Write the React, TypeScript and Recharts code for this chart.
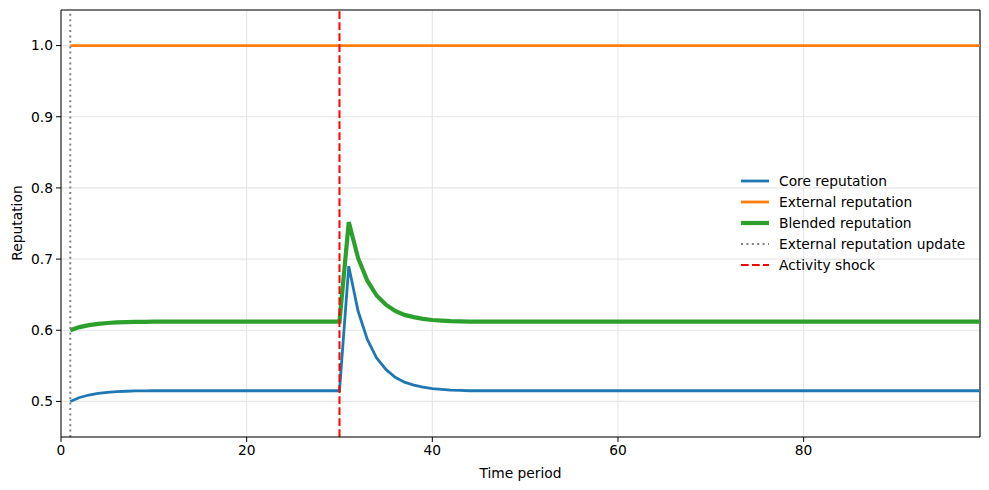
import React from "react";
import { LineChart, Line, XAxis, YAxis, CartesianGrid, ReferenceLine } from "recharts";

// time periods 1..99
const periods: number[] = Array.from({ length: 99 }, (_, i) => i + 1);

const coreReputation: number[] = [
    0.5, 0.5055, 0.509, 0.5113, 0.5128, 0.5137, 0.5143, 0.5147, 0.5149, 0.515,
    0.515, 0.515, 0.515, 0.515, 0.515, 0.515, 0.515, 0.515, 0.515, 0.515,
    0.515, 0.515, 0.515, 0.515, 0.515, 0.515, 0.515, 0.515, 0.515, 0.515,
    0.69, 0.627, 0.587, 0.561, 0.545, 0.534, 0.527, 0.523, 0.52, 0.518,
    0.517, 0.516, 0.5155, 0.515, 0.515, 0.515, 0.515, 0.515, 0.515, 0.515,
    0.515, 0.515, 0.515, 0.515, 0.515, 0.515, 0.515, 0.515, 0.515, 0.515,
    0.515, 0.515, 0.515, 0.515, 0.515, 0.515, 0.515, 0.515, 0.515, 0.515,
    0.515, 0.515, 0.515, 0.515, 0.515, 0.515, 0.515, 0.515, 0.515, 0.515,
    0.515, 0.515, 0.515, 0.515, 0.515, 0.515, 0.515, 0.515, 0.515, 0.515,
    0.515, 0.515, 0.515, 0.515, 0.515, 0.515, 0.515, 0.515, 0.515,
];

const externalReputation: number[] = periods.map(() => 1.0);

const blendedReputation: number[] = [
    0.6, 0.6044, 0.6072, 0.609, 0.6102, 0.611, 0.6114, 0.6118, 0.6119, 0.612,
    0.612, 0.612, 0.612, 0.612, 0.612, 0.612, 0.612, 0.612, 0.612, 0.612,
    0.612, 0.612, 0.612, 0.612, 0.612, 0.612, 0.612, 0.612, 0.612, 0.612,
    0.752, 0.7016, 0.6696, 0.6488, 0.636, 0.6272, 0.6216, 0.6184, 0.616, 0.6144,
    0.6136, 0.6128, 0.6124, 0.612, 0.612, 0.612, 0.612, 0.612, 0.612, 0.612,
    0.612, 0.612, 0.612, 0.612, 0.612, 0.612, 0.612, 0.612, 0.612, 0.612,
    0.612, 0.612, 0.612, 0.612, 0.612, 0.612, 0.612, 0.612, 0.612, 0.612,
    0.612, 0.612, 0.612, 0.612, 0.612, 0.612, 0.612, 0.612, 0.612, 0.612,
    0.612, 0.612, 0.612, 0.612, 0.612, 0.612, 0.612, 0.612, 0.612, 0.612,
    0.612, 0.612, 0.612, 0.612, 0.612, 0.612, 0.612, 0.612, 0.612,
];

const xTicks = [0, 20, 40, 60, 80];
const yTicks = [0.5, 0.6, 0.7, 0.8, 0.9, 1.0];
const externalUpdatePeriod = 1;
const shockPeriod = 30;

const data = periods.map((t, i) => ({
    t,
    core: coreReputation[i],
    external: externalReputation[i],
    blended: blendedReputation[i],
}));

const FONT = "'DejaVu Sans', sans-serif";
const FS = 13.8;

const legendItems = [
    { label: "Core reputation", color: "#1f77b4", width: 2.8, dash: "" },
    { label: "External reputation", color: "#ff7f0e", width: 2.8, dash: "" },
    { label: "Blended reputation", color: "#2ca02c", width: 4.2, dash: "" },
    { label: "External reputation update", color: "#808080", width: 2, dash: "2 3.4" },
    { label: "Activity shock", color: "#ff0000", width: 2, dash: "7.7 3.3" },
];

const LegendBox = () => (
    <div style={{ position: "absolute", left: 741, top: 170, fontFamily: FONT, fontSize: FS, color: "#000" }}>
        {legendItems.map((item) => (
            <div key={item.label} style={{ display: "flex", alignItems: "center", height: 21 }}>
                <svg width={28} height={10} style={{ marginRight: 10 }}>
                    <line x1={0} y1={5} x2={28} y2={5} stroke={item.color} strokeWidth={item.width} strokeDasharray={item.dash} />
                </svg>
                <span>{item.label}</span>
            </div>
        ))}
    </div>
);

const App: React.FC = () => {
    return (
        <div style={{ position: "absolute", left: 0, top: 0, width: 989, height: 490, background: "#fff" }}>
            <LineChart width={989} height={490} data={data} margin={{ top: 10, right: 9, left: 11, bottom: 8 }}>
                <CartesianGrid stroke="#e6e6e6" strokeWidth={1.1} />
                <XAxis
                    dataKey="t"
                    type="number"
                    domain={[0, 99]}
                    ticks={xTicks}
                    allowDataOverflow
                    height={45}
                    tickSize={5}
                    tickMargin={3}
                    stroke="#000"
                    tick={{ fill: "#000", fontSize: FS, fontFamily: FONT }}
                    label={{ value: "Time period", position: "insideBottom", offset: 4, fill: "#000", fontSize: FS, fontFamily: FONT }}
                />
                <YAxis
                    type="number"
                    domain={[0.45, 1.05]}
                    ticks={yTicks}
                    allowDataOverflow
                    width={50}
                    tickSize={5}
                    tickMargin={3}
                    stroke="#000"
                    tickFormatter={(v: number) => v.toFixed(1)}
                    tick={{ fill: "#000", fontSize: FS, fontFamily: FONT }}
                />
                <ReferenceLine y={1.05} stroke="#000" strokeWidth={1.1} />
                <ReferenceLine x={99} stroke="#000" strokeWidth={1.1} />
                <Line dataKey="core" stroke="#1f77b4" strokeWidth={2.8} dot={false} isAnimationActive={false} />
                <Line dataKey="external" stroke="#ff7f0e" strokeWidth={2.8} dot={false} isAnimationActive={false} />
                <Line dataKey="blended" stroke="#2ca02c" strokeWidth={4.2} dot={false} isAnimationActive={false} />
                <ReferenceLine x={externalUpdatePeriod} stroke="#808080" strokeWidth={2} strokeDasharray="2 3.4" />
                <ReferenceLine x={shockPeriod} stroke="#ff0000" strokeWidth={2} strokeDasharray="7.7 3.3" />
            </LineChart>
            <LegendBox />
            <div
                style={{
                    position: "absolute",
                    left: 17,
                    top: 223,
                    transform: "translate(-50%, -50%) rotate(-90deg)",
                    fontFamily: FONT,
                    fontSize: FS,
                    whiteSpace: "nowrap",
                }}
            >
                Reputation
            </div>
        </div>
    );
};

export default App;
